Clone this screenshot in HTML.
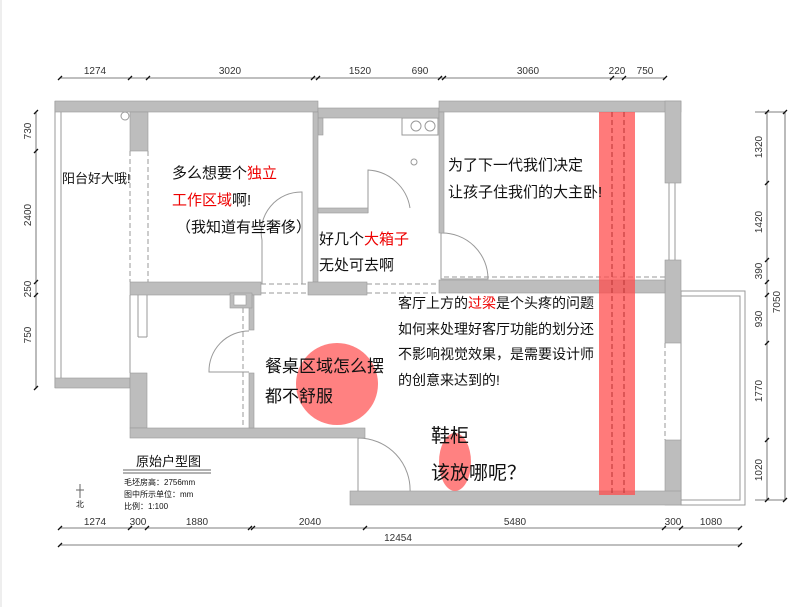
<!DOCTYPE html>
<html><head><meta charset="utf-8"><style>
html,body{margin:0;padding:0;background:#fff}
svg{display:block}
text{font-family:"Liberation Sans","Noto Sans CJK SC",sans-serif;fill:#111}
.d{font-size:10px;fill:#333}
.r{fill:#e00}
</style></head><body>
<svg width="800" height="607" viewBox="0 0 800 607" xmlns="http://www.w3.org/2000/svg">
<rect x="0" y="0" width="800" height="607" fill="#fff"/>
<line x1="1" y1="0" x2="1" y2="607" stroke="#ddd"/>
<!-- balcony left thin lines -->
<g stroke="#999" fill="none" stroke-width="1">
<line x1="55" y1="101" x2="55" y2="388"/><line x1="61" y1="112" x2="61" y2="378"/>
<line x1="130" y1="151" x2="130" y2="282" stroke-dasharray="5,3"/><line x1="148" y1="151" x2="148" y2="282" stroke-dasharray="5,3"/>
<line x1="130" y1="295" x2="130" y2="373"/><line x1="138" y1="295" x2="138" y2="337"/><line x1="147" y1="295" x2="147" y2="337"/><line x1="138" y1="337" x2="147" y2="337"/>
<!-- right balcony -->
<rect x="681" y="291" width="64" height="214"/><rect x="681" y="296" width="59" height="204"/>
<!-- windows -->
<line x1="669" y1="183" x2="669" y2="260"/><line x1="675" y1="183" x2="675" y2="260"/>
<line x1="665" y1="343" x2="665" y2="440" stroke-dasharray="5,3"/><line x1="681" y1="343" x2="681" y2="440" stroke-dasharray="5,3"/>
<!-- dashed openings -->
<line x1="261" y1="284" x2="308" y2="284" stroke-dasharray="5,3"/><line x1="261" y1="293" x2="308" y2="293" stroke-dasharray="5,3"/>
<line x1="367" y1="284" x2="439" y2="284" stroke-dasharray="5,3"/><line x1="367" y1="293" x2="439" y2="293" stroke-dasharray="5,3"/>
<line x1="444" y1="277" x2="665" y2="277" stroke-dasharray="5,3"/>
<line x1="243" y1="308" x2="243" y2="428" stroke-dasharray="5,3"/>
<!-- doors -->
<path d="M302 284 V192 A40 40 0 0 0 262 240"/><line x1="262" y1="240" x2="262" y2="284"/>
<path d="M368 213 V170 A45 45 0 0 1 410 208"/>
<path d="M441 233 V279 H488 A46 46 0 0 0 441 233"/>
<path d="M249 331 A40 40 0 0 0 209 372 H249"/>
<path d="M358 438 V493 H410 A52 52 0 0 0 358 438"/>
<!-- stove -->
<rect x="402" y="118" width="36" height="17"/>
<circle cx="416" cy="126" r="5"/><circle cx="430" cy="126" r="5"/>
<circle cx="414" cy="162" r="3"/><circle cx="125" cy="116" r="4"/>
</g>
<!-- walls -->
<g fill="#bdbdbd" stroke="#999" stroke-width="0.6">
<rect x="55" y="101" width="263" height="11"/>
<rect x="318" y="108" width="121" height="10"/>
<rect x="318" y="118" width="5" height="17"/>
<rect x="439" y="101" width="242" height="11"/>
<rect x="665" y="101" width="16" height="82"/>
<rect x="665" y="260" width="16" height="83"/>
<rect x="665" y="440" width="16" height="65"/>
<rect x="130" y="112" width="18" height="39"/>
<rect x="313" y="112" width="5" height="170"/>
<rect x="318" y="208" width="50" height="5"/>
<rect x="439" y="112" width="5" height="121"/>
<rect x="130" y="282" width="131" height="13"/>
<rect x="308" y="282" width="59" height="13"/>
<rect x="439" y="280" width="226" height="13"/>
<rect x="55" y="378" width="75" height="10"/>
<rect x="130" y="373" width="17" height="55"/>
<rect x="130" y="428" width="235" height="10"/>
<rect x="249" y="295" width="5" height="35"/>
<rect x="249" y="373" width="5" height="55"/>
<rect x="230" y="293" width="22" height="15"/>
<rect x="350" y="491" width="331" height="14"/>
</g>
<rect x="234" y="295" width="12" height="10" fill="#fff" stroke="#999" stroke-width="0.6"/>
<!-- red beam -->
<rect x="599" y="112" width="36" height="383" fill="#ff4d4d" opacity="0.75"/>
<line x1="612" y1="112" x2="612" y2="495" stroke="#b33" stroke-dasharray="5,3"/>
<line x1="624" y1="112" x2="624" y2="495" stroke="#b33" stroke-dasharray="5,3"/>
<circle cx="337" cy="384" r="41" fill="#ff6b6b" opacity="0.85"/>
<ellipse cx="455" cy="462" rx="16" ry="29" fill="#ff6b6b" opacity="0.85"/>
<!-- dimension lines -->
<g stroke="#555" stroke-width="0.8" fill="none">
<line x1="60" y1="78" x2="665" y2="78"/>
<line x1="60" y1="528" x2="740" y2="528"/><line x1="60" y1="545" x2="740" y2="545"/>
<line x1="36" y1="112" x2="36" y2="388"/>
<line x1="767" y1="112" x2="767" y2="500"/><line x1="785" y1="112" x2="785" y2="500"/>
<line x1="755" y1="112" x2="785" y2="112"/><line x1="755" y1="500" x2="785" y2="500"/>
</g>
<g stroke="#111" stroke-width="1.3">
<path d="M58 80l4-4M128 80l4-4M146 80l4-4M311 80l4-4M316 80l4-4M438 80l4-4M442 80l4-4M610 80l4-4M622 80l4-4M663 80l4-4"/>
<path d="M58 530l4-4M128 530l4-4M145 530l4-4M248 530l4-4M251 530l4-4M363 530l4-4M662 530l4-4M679 530l4-4M738 530l4-4M58 547l4-4M738 547l4-4"/>
<path d="M34 114l4-4M34 153l4-4M34 284l4-4M34 297l4-4M34 390l4-4"/>
<path d="M765 114l4-4M765 185l4-4M765 262l4-4M765 284l4-4M765 297l4-4M765 345l4-4M765 442l4-4M765 502l4-4M783 114l4-4M783 502l4-4"/>
</g>
<g class="d" text-anchor="middle">
<text x="95" y="74" class="d">1274</text><text x="230" y="74" class="d">3020</text><text x="360" y="74" class="d">1520</text><text x="420" y="74" class="d">690</text><text x="528" y="74" class="d">3060</text><text x="617" y="74" class="d">220</text><text x="645" y="74" class="d">750</text>
<text x="95" y="525" class="d">1274</text><text x="138" y="525" class="d">300</text><text x="197" y="525" class="d">1880</text><text x="310" y="525" class="d">2040</text><text x="515" y="525" class="d">5480</text><text x="673" y="525" class="d">300</text><text x="711" y="525" class="d">1080</text>
<text x="398" y="541" class="d">12454</text>
</g>
<g class="d" text-anchor="middle">
<text transform="translate(31,131) rotate(-90)" class="d">730</text>
<text transform="translate(31,215) rotate(-90)" class="d">2400</text>
<text transform="translate(31,289) rotate(-90)" class="d">250</text>
<text transform="translate(31,335) rotate(-90)" class="d">750</text>
<text transform="translate(762,147) rotate(-90)" class="d">1320</text>
<text transform="translate(762,222) rotate(-90)" class="d">1420</text>
<text transform="translate(762,271) rotate(-90)" class="d">390</text>
<text transform="translate(762,319) rotate(-90)" class="d">930</text>
<text transform="translate(762,391) rotate(-90)" class="d">1770</text>
<text transform="translate(762,470) rotate(-90)" class="d">1020</text>
<text transform="translate(780,302) rotate(-90)" class="d">7050</text>
</g>
<!-- annotations -->
<text x="62" y="183" font-size="13">阳台好大哦!</text>
<text x="172" y="178" font-size="15">多么想要个<tspan class="r">独立</tspan></text>
<text x="172" y="205" font-size="15"><tspan class="r">工作区域</tspan>啊!</text>
<text x="176" y="232" font-size="15">（我知道有些奢侈）</text>
<text x="319" y="244" font-size="15">好几个<tspan class="r">大箱子</tspan></text>
<text x="319" y="270" font-size="15">无处可去啊</text>
<text x="448" y="170" font-size="15">为了下一代我们决定</text>
<text x="448" y="197" font-size="15">让孩子住我们的大主卧!</text>
<text x="398" y="308" font-size="14">客厅上方的<tspan class="r">过梁</tspan>是个头疼的问题</text>
<text x="398" y="334" font-size="14">如何来处理好客厅功能的划分还</text>
<text x="398" y="359" font-size="14">不影响视觉效果，是需要设计师</text>
<text x="398" y="385" font-size="14">的创意来达到的!</text>
<text x="265" y="372" font-size="17">餐桌区域怎么摆</text>
<text x="265" y="402" font-size="17">都不舒服</text>
<text x="431" y="442" font-size="19">鞋柜</text>
<text x="431" y="479" font-size="19">该放哪呢？</text>
<!-- legend -->
<text x="136" y="466" font-size="13">原始户型图</text>
<line x1="123" y1="470" x2="211" y2="470" stroke="#666"/><line x1="123" y1="473" x2="211" y2="473" stroke="#666"/>
<text x="124" y="485" font-size="8">毛坯房高：2756mm</text>
<text x="124" y="497" font-size="8">图中所示单位：mm</text>
<text x="124" y="509" font-size="8">比例：1:100</text>
<line x1="80" y1="484" x2="80" y2="498" stroke="#666"/><line x1="76" y1="490" x2="84" y2="490" stroke="#666"/>
<text x="76" y="507" font-size="8">北</text>
</svg>
</body></html>
